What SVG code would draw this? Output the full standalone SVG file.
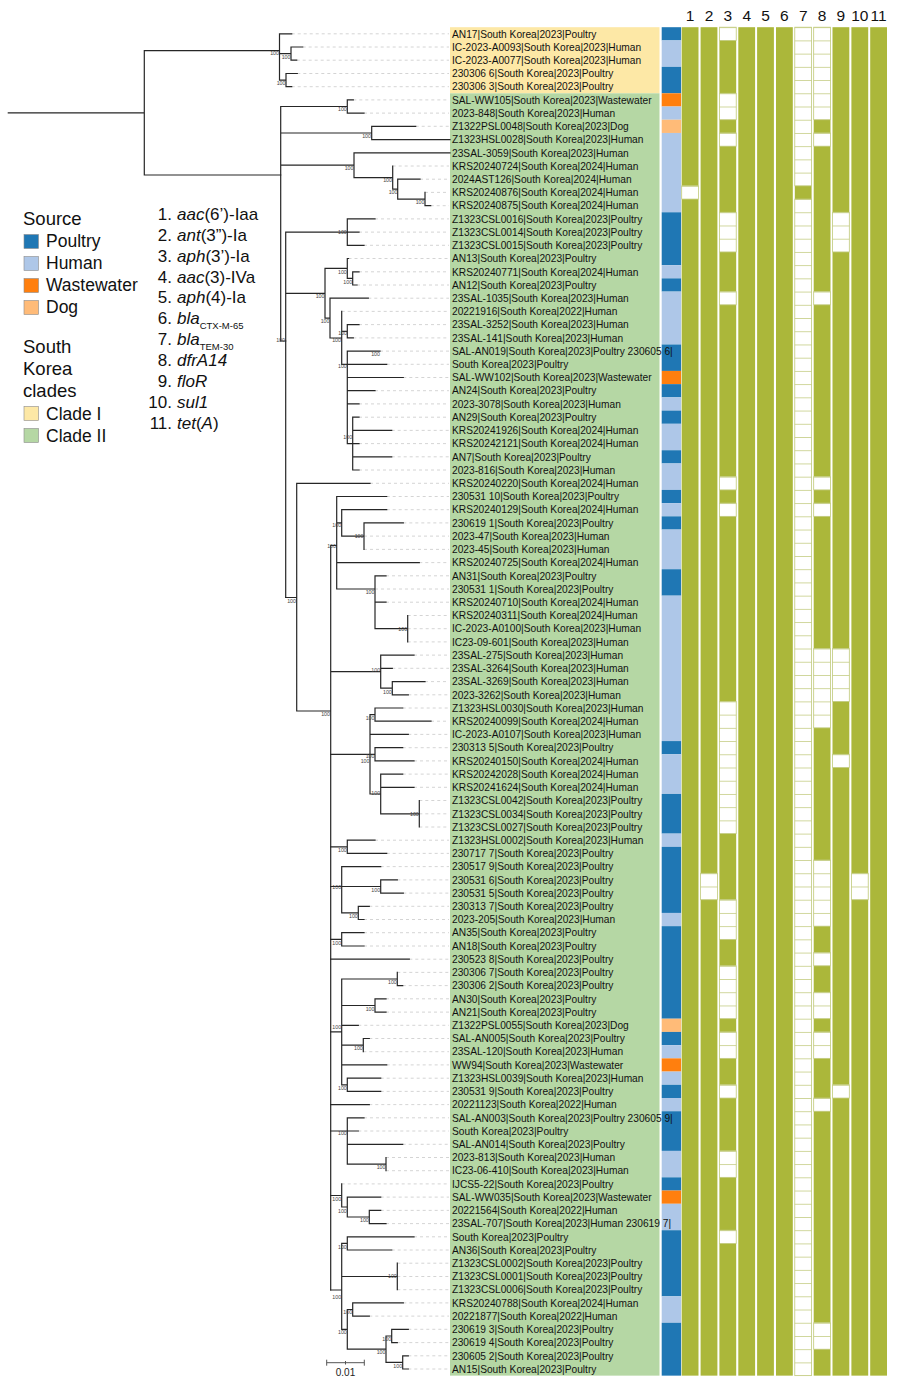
<svg xmlns="http://www.w3.org/2000/svg" width="900" height="1378" viewBox="0 0 900 1378">
<style>
.t{font-family:"Liberation Sans",Arial,sans-serif;font-size:10.2px;fill:#111}
.bs{font-family:"Liberation Sans",Arial,sans-serif;font-size:5.3px;fill:#444;text-anchor:end}
.br{fill:none;stroke:#262626;stroke-width:1.2;stroke-linecap:square}
.ld{fill:none;stroke:#c9c9c9;stroke-width:0.8;stroke-dasharray:3 3}
.g{fill:#abb73a}
.w{fill:url(#wc);stroke:#c5ce86;stroke-width:0.8}
.lg{font-family:"Liberation Sans",Arial,sans-serif;fill:#111}
.sw{stroke:#8a8a8a;stroke-width:0.6}
.P{fill:#1f77b4}.H{fill:#aec7e8}.W{fill:#ff7f0e}.D{fill:#ffbb78}
.hd{font-family:"Liberation Sans",Arial,sans-serif;font-size:15.5px;fill:#111;text-anchor:middle}
</style>
<defs>
<pattern id="wc" patternUnits="userSpaceOnUse" x="0" y="27.2" width="20" height="13.22">
<rect width="20" height="13.22" fill="#fff"/><rect width="20" height="0.8" fill="#c5ce86"/>
</pattern>
</defs>
<rect width="900" height="1378" fill="#fff"/>

<g id="legend-source">
<text class="lg" x="23" y="225" font-size="18.5">Source</text>
<rect class="P sw" x="24" y="234.5" width="14.5" height="14"/>
<text class="lg" x="46" y="247" font-size="17.5">Poultry</text>
<rect class="H sw" x="24" y="256.5" width="14.5" height="14"/>
<text class="lg" x="46" y="269" font-size="17.5">Human</text>
<rect class="W sw" x="24" y="278.5" width="14.5" height="14"/>
<text class="lg" x="46" y="291" font-size="17.5">Wastewater</text>
<rect class="D sw" x="24" y="300.5" width="14.5" height="14"/>
<text class="lg" x="46" y="313" font-size="17.5">Dog</text>
</g>
<g id="legend-clades">
<text class="lg" x="23" y="353" font-size="18.5">South</text>
<text class="lg" x="23" y="375" font-size="18.5">Korea</text>
<text class="lg" x="23" y="396.5" font-size="18.5">clades</text>
<rect class="sw" x="24" y="406.5" width="14.5" height="14" fill="#fde8a6"/>
<text class="lg" x="46" y="420" font-size="17.5">Clade I</text>
<rect class="sw" x="24" y="428.5" width="14.5" height="14" fill="#b5d7a4"/>
<text class="lg" x="46" y="442" font-size="17.5">Clade II</text>
</g>
<g id="legend-genes" class="lg" font-size="17">
<text x="172" y="220" text-anchor="end">1.</text><text x="177" y="220"><tspan font-style="italic">aac</tspan>(6’)-Iaa</text>
<text x="172" y="240.85" text-anchor="end">2.</text><text x="177" y="240.85"><tspan font-style="italic">ant</tspan>(3”)-Ia</text>
<text x="172" y="261.7" text-anchor="end">3.</text><text x="177" y="261.7"><tspan font-style="italic">aph</tspan>(3’)-Ia</text>
<text x="172" y="282.55" text-anchor="end">4.</text><text x="177" y="282.55"><tspan font-style="italic">aac</tspan>(3)-IVa</text>
<text x="172" y="303.4" text-anchor="end">5.</text><text x="177" y="303.4"><tspan font-style="italic">aph</tspan>(4)-Ia</text>
<text x="172" y="324.25" text-anchor="end">6.</text><text x="177" y="324.25"><tspan font-style="italic">bla</tspan><tspan font-size="9.5" dy="5">CTX-M-65</tspan></text>
<text x="172" y="345.1" text-anchor="end">7.</text><text x="177" y="345.1"><tspan font-style="italic">bla</tspan><tspan font-size="9.5" dy="5">TEM-30</tspan></text>
<text x="172" y="365.95" text-anchor="end">8.</text><text x="177" y="365.95" font-style="italic">dfrA14</text>
<text x="172" y="386.8" text-anchor="end">9.</text><text x="177" y="386.8" font-style="italic">floR</text>
<text x="172" y="407.65" text-anchor="end">10.</text><text x="177" y="407.65" font-style="italic">sul1</text>
<text x="172" y="428.5" text-anchor="end">11.</text><text x="177" y="428.5"><tspan font-style="italic">tet</tspan>(<tspan font-style="italic">A</tspan>)</text>
</g>

<g id="clade-bands">
<rect x="450" y="27.2" width="209.5" height="66.1" fill="#fde8a6"/>
<rect x="450" y="93.3" width="209.5" height="1282.34" fill="#b5d7a4"/>
</g>

<g id="leaders">
<path class="ld" d="M291.7,33.8H449M302.7,47H449M296.7,60.2H449M297.3,73.5H449M291.7,86.7H449M353.3,99.9H449M364,113.1H449M415.7,126.3H449M392.7,166H449M420,179.2H449M425,192.4H449M430.7,205.7H449M375,218.9H449M359,232.1H449M364,245.3H449M348.5,258.5H449M359,271.8H449M357,285H449M368.3,298.2H449M341.7,311.4H449M359,324.6H449M353.3,337.9H449M380,351.1H449M386.7,364.3H449M403.3,377.5H449M375,390.7H449M359,403.9H449M359,417.2H449M391.7,430.4H449M359,443.6H449M391.7,456.8H449M359,470H449M370,483.3H449M386.7,496.5H449M386.7,509.7H449M403.3,522.9H449M364,536.1H449M364,549.4H449M419.3,562.6H449M386,575.8H449M375,589H449M386,602.2H449M407.7,615.5H449M407.7,628.7H449M407.7,641.9H449M414,655.1H449M392.3,668.3H449M425,681.6H449M408.3,694.8H449M402.7,708H449M431,721.2H449M408.3,734.4H449M402.7,747.7H449M414,760.9H449M402.7,774.1H449M414,787.3H449M419.3,800.5H449M419.3,813.8H449M419.3,827H449M375,840.2H449M386.7,853.4H449M380.7,866.6H449M397.3,879.9H449M403.3,893.1H449M369.3,906.3H449M364,919.5H449M364,932.7H449M364,946H449M409.3,959.2H449M397.3,972.4H449M402.7,985.6H449M386,998.8H449M386,1012.1H449M358.3,1025.3H449M369.3,1038.5H449M363.3,1051.7H449M386.7,1064.9H449M380.7,1078.2H449M380.7,1091.4H449M369.3,1104.6H449M364,1117.8H449M358.3,1131H449M402.7,1144.3H449M386,1157.5H449M386,1170.7H449M341.7,1183.9H449M380.7,1197.1H449M380.7,1210.4H449M386,1223.6H449M414,1236.8H449M391.7,1250H449M397.3,1263.2H449M397.3,1276.5H449M397.3,1289.7H449M403.3,1302.9H449M369.3,1316.1H449M408.3,1329.3H449M397.3,1342.6H449M408.3,1355.8H449M408.3,1369H449"/>
</g>

<g id="connectors">
<path class="br" d="M8.3,112.9H144.3M144.3,50.7V175M144.3,50.7H279.5M144.3,175H280.7M279.5,33.8V80.1M279.5,33.8H291.7M279.5,53.6H291M291,47V60.2M291,47H302.7M291,60.2H296.7M279.5,80.1H286M286,73.5V86.7M286,73.5H297.3M286,86.7H291.7"/>
<path class="br" d="M280.7,106.5V341M280.7,106.5H347.3M347.3,99.9V113.1M347.3,99.9H353.3M347.3,113.1H364M280.7,133H371.7M371.7,126.3V139.6M371.7,126.3H415.7M371.7,139.6H450M280.7,165.2H354M354,152.8V177.6M354,152.8H450M354,177.6H392.7M392.7,166V189.1M392.7,189.1H397.7M397.7,179.2V199.1M397.7,179.2H420M397.7,199.1H425M425,192.4V205.7M425,205.7H430.7M280.7,341H285.7"/>
<path class="br" d="M285.7,232.1V597.5M285.7,232.1H347.3M347.3,218.9V245.3M347.3,218.9H375M347.3,232.1H359M347.3,245.3H364M285.7,293.3H325M325,268.3V318.1M325,268.3H347.3M347.3,258.5V278.4M347.3,258.5H348.5M347.3,278.4H352.7M352.7,271.8V285M352.7,271.8H359M352.7,285H357M325,318.1H330M330,298.2V338M330,298.2H368.3M330,338H341.7M341.7,311.4V364.3M341.7,331.3H347.3M347.3,324.6V337.9M347.3,324.6H359M347.3,337.9H353.3M341.7,364.3H347.3M347.3,351.1V443.6M347.3,351.1H380M347.3,364.3H386.7M347.3,377.5H403.3M347.3,390.7H375M347.3,403.9H359M347.3,443.6H352.7M352.7,417.2V470M352.7,417.2H359M352.7,430.4H391.7M352.7,443.6H359M352.7,456.8H391.7M352.7,470H359"/>
<path class="br" d="M285.7,597.5H296.7M296.7,483.3V711M296.7,483.3H370M296.7,711H330.7M330.7,545.5V1290M330.7,545.5H336.7M336.7,496.5V589M336.7,496.5H386.7M336.7,522.9H341.7M341.7,509.7V536.1M341.7,509.7H386.7M341.7,536.1H364M364,522.9V549.4M364,522.9H403.3M336.7,562.6H419.3M336.7,589H375M375,575.8V628.7M375,575.8H386M375,602.2H386M375,628.7H407.7M407.7,615.5V641.9M330.7,671.6H380.7M380.7,655.1V688.2M380.7,655.1H414M380.7,668.3H392.3M380.7,688.2H392.3M392.3,681.6V694.8M392.3,681.6H425M392.3,694.8H408.3"/>
<path class="br" d="M330.7,754.3H375M370,714.6V794M370,714.6H375M375,708V721.2M375,708H402.7M375,721.2H431M370,734.4H408.3M375,747.7V760.9M375,747.7H402.7M375,760.9H414M370,794H380.7M380.7,774.1V813.8M380.7,774.1H402.7M380.7,787.3H414M380.7,813.8H419.3M419.3,800.5V827M330.7,846.8H347.3M347.3,840.2V853.4M347.3,840.2H375M347.3,853.4H386.7M330.7,886.5H380.7M341.7,866.6V912.9M341.7,866.6H380.7M380.7,879.9V893.1M380.7,879.9H397.3M380.7,893.1H403.3M341.7,912.9H358.3M358.3,906.3V919.5M358.3,906.3H369.3M358.3,919.5H364M330.7,939.4H341.7M341.7,932.7V946M341.7,932.7H364M341.7,946H364M330.7,959.2H409.3"/>
<path class="br" d="M330.7,1031.9H341.7M341.7,979V1084.8M341.7,979H397.3M397.3,972.4V985.6M397.3,985.6H402.7M341.7,1005.5H375M375,998.8V1012.1M375,998.8H386M375,1012.1H386M341.7,1025.3H358.3M341.7,1045.1H363.3M363.3,1038.5V1051.7M363.3,1038.5H369.3M341.7,1064.9H386.7M341.7,1084.8H347.3M347.3,1078.2V1091.4M347.3,1078.2H380.7M347.3,1091.4H380.7M330.7,1104.6H369.3M330.7,1131H358.3M347.3,1117.8V1164.1M347.3,1117.8H364M347.3,1144.3H402.7M347.3,1164.1H386M386,1157.5V1170.7M330.7,1195.5H341.7M341.7,1183.9V1207M341.7,1207H347.3M347.3,1197.1V1217M347.3,1197.1H380.7M347.3,1217H369.3M369.3,1210.4V1223.6M369.3,1210.4H380.7M369.3,1223.6H386M330.7,1290H341.7M341.7,1243.4V1329.4M341.7,1243.4H347.3M347.3,1236.8V1250M347.3,1236.8H414M347.3,1250H391.7M341.7,1276.5H397.3M397.3,1263.2V1289.7M341.7,1329.4H347.3M347.3,1309.5V1349.2M347.3,1309.5H352.7M352.7,1302.9V1316.1M352.7,1302.9H403.3M352.7,1316.1H369.3M347.3,1349.2H386M386,1336V1362.4M386,1336H391.7M391.7,1329.3V1342.6M391.7,1329.3H408.3M391.7,1342.6H397.3M386,1362.4H402.7M402.7,1355.8V1369M402.7,1355.8H408.3M402.7,1369H408.3"/>
</g>

<g id="bootstrap">
<text class="bs" x="279" y="55.3">100</text><text class="bs" x="290.5" y="58.7">100</text><text class="bs" x="285.5" y="84.7">100</text>
<text class="bs" x="346.8" y="111.3">100</text><text class="bs" x="371" y="138">100</text><text class="bs" x="353.5" y="170.3">100</text>
<text class="bs" x="392" y="182">100</text><text class="bs" x="397.5" y="194.3">100</text><text class="bs" x="424.5" y="203.7">100</text>
<text class="bs" x="346.8" y="234">100</text><text class="bs" x="324.5" y="298">100</text><text class="bs" x="346.8" y="273.7">100</text>
<text class="bs" x="352.2" y="283.7">100</text><text class="bs" x="329.5" y="323">100</text><text class="bs" x="341" y="342">100</text>
<text class="bs" x="347" y="335.3">100</text><text class="bs" x="285" y="342">100</text><text class="bs" x="380" y="356">100</text>
<text class="bs" x="346.8" y="368">100</text><text class="bs" x="352.2" y="438.7">100</text><text class="bs" x="296" y="602.7">100</text>
<text class="bs" x="336" y="547.7">100</text><text class="bs" x="341.2" y="527">100</text><text class="bs" x="363.5" y="538">100</text>
<text class="bs" x="374.5" y="593.7">100</text><text class="bs" x="407.2" y="631">100</text><text class="bs" x="380.2" y="671.7">100</text>
<text class="bs" x="391.8" y="693.7">100</text><text class="bs" x="330" y="716.3">100</text><text class="bs" x="374.5" y="719.7">100</text>
<text class="bs" x="369.5" y="763">100</text><text class="bs" x="374.5" y="757.5">100</text><text class="bs" x="380.2" y="795">100</text>
<text class="bs" x="418.8" y="815.7">100</text><text class="bs" x="346.8" y="852">100</text><text class="bs" x="341.2" y="888.7">100</text>
<text class="bs" x="380.2" y="892">100</text><text class="bs" x="357.8" y="918">100</text><text class="bs" x="341.2" y="944.7">100</text>
<text class="bs" x="341.2" y="1029">100</text><text class="bs" x="396.8" y="984">100</text><text class="bs" x="374.5" y="1011">100</text>
<text class="bs" x="362.8" y="1050">100</text><text class="bs" x="346.8" y="1090">100</text><text class="bs" x="346.8" y="1135">100</text>
<text class="bs" x="385.5" y="1169">100</text><text class="bs" x="341.2" y="1201">100</text><text class="bs" x="346.8" y="1212.7">100</text>
<text class="bs" x="368.8" y="1222.3">100</text><text class="bs" x="341.2" y="1299.3">100</text><text class="bs" x="346.8" y="1248.7">100</text>
<text class="bs" x="396.8" y="1278">100</text><text class="bs" x="346.8" y="1334.3">100</text><text class="bs" x="352.2" y="1314.3">100</text>
<text class="bs" x="385.5" y="1354.3">100</text><text class="bs" x="391.2" y="1341">100</text><text class="bs" x="402.2" y="1367.7">100</text>
</g>

<g id="scale-bar">
<path d="M326.7,1362.7H364.3M326.7,1359.7V1365.7M364.3,1359.7V1365.7M345.5,1361V1364.5" fill="none" stroke="#555" stroke-width="1"/>
<text x="345.5" y="1375.5" text-anchor="middle" font-family="Liberation Sans,Arial,sans-serif" font-size="10" fill="#222">0.01</text>
</g>

<g id="source-column">
<rect class="P" x="661.7" y="27.2" width="19.4" height="13.22"/>
<rect class="H" x="661.7" y="40.42" width="19.4" height="26.44"/>
<rect class="P" x="661.7" y="66.86" width="19.4" height="26.44"/>
<rect class="W" x="661.7" y="93.3" width="19.4" height="13.22"/>
<rect class="H" x="661.7" y="106.52" width="19.4" height="13.22"/>
<rect class="D" x="661.7" y="119.74" width="19.4" height="13.22"/>
<rect class="H" x="661.7" y="132.96" width="19.4" height="79.32"/>
<rect class="P" x="661.7" y="212.28" width="19.4" height="52.88"/>
<rect class="H" x="661.7" y="265.16" width="19.4" height="13.22"/>
<rect class="P" x="661.7" y="278.38" width="19.4" height="13.22"/>
<rect class="H" x="661.7" y="291.6" width="19.4" height="52.88"/>
<rect class="P" x="661.7" y="344.48" width="19.4" height="26.44"/>
<rect class="W" x="661.7" y="370.92" width="19.4" height="13.22"/>
<rect class="P" x="661.7" y="384.14" width="19.4" height="13.22"/>
<rect class="H" x="661.7" y="397.36" width="19.4" height="13.22"/>
<rect class="P" x="661.7" y="410.58" width="19.4" height="13.22"/>
<rect class="H" x="661.7" y="423.8" width="19.4" height="26.44"/>
<rect class="P" x="661.7" y="450.24" width="19.4" height="13.22"/>
<rect class="H" x="661.7" y="463.46" width="19.4" height="26.44"/>
<rect class="P" x="661.7" y="489.9" width="19.4" height="13.22"/>
<rect class="H" x="661.7" y="503.12" width="19.4" height="13.22"/>
<rect class="P" x="661.7" y="516.34" width="19.4" height="13.22"/>
<rect class="H" x="661.7" y="529.56" width="19.4" height="39.66"/>
<rect class="P" x="661.7" y="569.22" width="19.4" height="26.44"/>
<rect class="H" x="661.7" y="595.66" width="19.4" height="145.42"/>
<rect class="P" x="661.7" y="741.08" width="19.4" height="13.22"/>
<rect class="H" x="661.7" y="754.3" width="19.4" height="39.66"/>
<rect class="P" x="661.7" y="793.96" width="19.4" height="39.66"/>
<rect class="H" x="661.7" y="833.62" width="19.4" height="13.22"/>
<rect class="P" x="661.7" y="846.84" width="19.4" height="66.1"/>
<rect class="H" x="661.7" y="912.94" width="19.4" height="13.22"/>
<rect class="P" x="661.7" y="926.16" width="19.4" height="92.54"/>
<rect class="D" x="661.7" y="1018.7" width="19.4" height="13.22"/>
<rect class="P" x="661.7" y="1031.92" width="19.4" height="13.22"/>
<rect class="H" x="661.7" y="1045.14" width="19.4" height="13.22"/>
<rect class="W" x="661.7" y="1058.36" width="19.4" height="13.22"/>
<rect class="H" x="661.7" y="1071.58" width="19.4" height="13.22"/>
<rect class="P" x="661.7" y="1084.8" width="19.4" height="13.22"/>
<rect class="H" x="661.7" y="1098.02" width="19.4" height="13.22"/>
<rect class="P" x="661.7" y="1111.24" width="19.4" height="39.66"/>
<rect class="H" x="661.7" y="1150.9" width="19.4" height="26.44"/>
<rect class="P" x="661.7" y="1177.34" width="19.4" height="13.22"/>
<rect class="W" x="661.7" y="1190.56" width="19.4" height="13.22"/>
<rect class="H" x="661.7" y="1203.78" width="19.4" height="26.44"/>
<rect class="P" x="661.7" y="1230.22" width="19.4" height="66.1"/>
<rect class="H" x="661.7" y="1296.32" width="19.4" height="26.44"/>
<rect class="P" x="661.7" y="1322.76" width="19.4" height="52.88"/>
</g>

<g id="heatmap">
<text class="hd" x="690.1" y="21">1</text><text class="hd" x="709" y="21">2</text><text class="hd" x="727.8" y="21">3</text><text class="hd" x="746.7" y="21">4</text><text class="hd" x="765.5" y="21">5</text><text class="hd" x="784.4" y="21">6</text><text class="hd" x="803.2" y="21">7</text><text class="hd" x="822.1" y="21">8</text><text class="hd" x="840.9" y="21">9</text><text class="hd" x="859.8" y="21">10</text><text class="hd" x="878.6" y="21">11</text>
<rect class="g" x="681.7" y="27.2" width="16.8" height="1348.44"/>
<rect class="g" x="700.6" y="27.2" width="16.8" height="1348.44"/>
<rect class="g" x="719.4" y="27.2" width="16.8" height="1348.44"/>
<rect class="g" x="738.3" y="27.2" width="16.8" height="1348.44"/>
<rect class="g" x="757.1" y="27.2" width="16.8" height="1348.44"/>
<rect class="g" x="776" y="27.2" width="16.8" height="1348.44"/>
<rect class="g" x="794.8" y="27.2" width="16.8" height="1348.44"/>
<rect class="g" x="813.7" y="27.2" width="16.8" height="1348.44"/>
<rect class="g" x="832.5" y="27.2" width="16.8" height="1348.44"/>
<rect class="g" x="851.4" y="27.2" width="16.8" height="1348.44"/>
<rect class="g" x="870.2" y="27.2" width="16.8" height="1348.44"/>
<rect class="w" x="681.7" y="185.84" width="16.8" height="13.22"/>
<rect class="w" x="700.6" y="873.28" width="16.8" height="26.44"/>
<rect class="w" x="719.4" y="27.2" width="16.8" height="13.22"/>
<rect class="w" x="719.4" y="93.3" width="16.8" height="26.44"/>
<rect class="w" x="719.4" y="132.96" width="16.8" height="13.22"/>
<rect class="w" x="719.4" y="212.28" width="16.8" height="39.66"/>
<rect class="w" x="719.4" y="291.6" width="16.8" height="13.22"/>
<rect class="w" x="719.4" y="476.68" width="16.8" height="13.22"/>
<rect class="w" x="719.4" y="503.12" width="16.8" height="13.22"/>
<rect class="w" x="719.4" y="701.42" width="16.8" height="132.2"/>
<rect class="w" x="719.4" y="899.72" width="16.8" height="39.66"/>
<rect class="w" x="719.4" y="965.82" width="16.8" height="52.88"/>
<rect class="w" x="719.4" y="1031.92" width="16.8" height="26.44"/>
<rect class="w" x="719.4" y="1084.8" width="16.8" height="13.22"/>
<rect class="w" x="719.4" y="1150.9" width="16.8" height="26.44"/>
<rect class="w" x="719.4" y="1230.22" width="16.8" height="13.22"/>
<rect class="w" x="794.8" y="27.2" width="16.8" height="158.64"/>
<rect class="w" x="794.8" y="199.06" width="16.8" height="1176.58"/>
<rect class="w" x="813.7" y="27.2" width="16.8" height="92.54"/>
<rect class="w" x="813.7" y="132.96" width="16.8" height="13.22"/>
<rect class="w" x="813.7" y="291.6" width="16.8" height="13.22"/>
<rect class="w" x="813.7" y="476.68" width="16.8" height="13.22"/>
<rect class="w" x="813.7" y="503.12" width="16.8" height="13.22"/>
<rect class="w" x="813.7" y="648.54" width="16.8" height="79.32"/>
<rect class="w" x="813.7" y="860.06" width="16.8" height="66.1"/>
<rect class="w" x="813.7" y="952.6" width="16.8" height="13.22"/>
<rect class="w" x="813.7" y="992.26" width="16.8" height="26.44"/>
<rect class="w" x="813.7" y="1031.92" width="16.8" height="26.44"/>
<rect class="w" x="813.7" y="1098.02" width="16.8" height="13.22"/>
<rect class="w" x="813.7" y="1322.76" width="16.8" height="26.44"/>
<rect class="w" x="832.5" y="212.28" width="16.8" height="39.66"/>
<rect class="w" x="832.5" y="648.54" width="16.8" height="52.88"/>
<rect class="w" x="832.5" y="754.3" width="16.8" height="13.22"/>
<rect class="w" x="832.5" y="1084.8" width="16.8" height="13.22"/>
<rect class="w" x="851.4" y="873.28" width="16.8" height="26.44"/>
</g>

<g id="tip-labels" class="t">
<text x="452" y="37.5">AN17|South Korea|2023|Poultry</text>
<text x="452" y="50.7">IC-2023-A0093|South Korea|2023|Human</text>
<text x="452" y="63.9">IC-2023-A0077|South Korea|2023|Human</text>
<text x="452" y="77.2">230306 6|South Korea|2023|Poultry</text>
<text x="452" y="90.4">230306 3|South Korea|2023|Poultry</text>
<text x="452" y="103.6">SAL-WW105|South Korea|2023|Wastewater</text>
<text x="452" y="116.8">2023-848|South Korea|2023|Human</text>
<text x="452" y="130">Z1322PSL0048|South Korea|2023|Dog</text>
<text x="452" y="143.3">Z1323HSL0028|South Korea|2023|Human</text>
<text x="452" y="156.5">23SAL-3059|South Korea|2023|Human</text>
<text x="452" y="169.7">KRS20240724|South Korea|2024|Human</text>
<text x="452" y="182.9">2024AST126|South Korea|2024|Human</text>
<text x="452" y="196.1">KRS20240876|South Korea|2024|Human</text>
<text x="452" y="209.4">KRS20240875|South Korea|2024|Human</text>
<text x="452" y="222.6">Z1323CSL0016|South Korea|2023|Poultry</text>
<text x="452" y="235.8">Z1323CSL0014|South Korea|2023|Poultry</text>
<text x="452" y="249">Z1323CSL0015|South Korea|2023|Poultry</text>
<text x="452" y="262.2">AN13|South Korea|2023|Poultry</text>
<text x="452" y="275.5">KRS20240771|South Korea|2024|Human</text>
<text x="452" y="288.7">AN12|South Korea|2023|Poultry</text>
<text x="452" y="301.9">23SAL-1035|South Korea|2023|Human</text>
<text x="452" y="315.1">20221916|South Korea|2022|Human</text>
<text x="452" y="328.3">23SAL-3252|South Korea|2023|Human</text>
<text x="452" y="341.6">23SAL-141|South Korea|2023|Human</text>
<text x="452" y="354.8">SAL-AN019|South Korea|2023|Poultry 230605 6|</text>
<text x="452" y="368">South Korea|2023|Poultry</text>
<text x="452" y="381.2">SAL-WW102|South Korea|2023|Wastewater</text>
<text x="452" y="394.4">AN24|South Korea|2023|Poultry</text>
<text x="452" y="407.6">2023-3078|South Korea|2023|Human</text>
<text x="452" y="420.9">AN29|South Korea|2023|Poultry</text>
<text x="452" y="434.1">KRS20241926|South Korea|2024|Human</text>
<text x="452" y="447.3">KRS20242121|South Korea|2024|Human</text>
<text x="452" y="460.5">AN7|South Korea|2023|Poultry</text>
<text x="452" y="473.7">2023-816|South Korea|2023|Human</text>
<text x="452" y="487">KRS20240220|South Korea|2024|Human</text>
<text x="452" y="500.2">230531 10|South Korea|2023|Poultry</text>
<text x="452" y="513.4">KRS20240129|South Korea|2024|Human</text>
<text x="452" y="526.6">230619 1|South Korea|2023|Poultry</text>
<text x="452" y="539.8">2023-47|South Korea|2023|Human</text>
<text x="452" y="553.1">2023-45|South Korea|2023|Human</text>
<text x="452" y="566.3">KRS20240725|South Korea|2024|Human</text>
<text x="452" y="579.5">AN31|South Korea|2023|Poultry</text>
<text x="452" y="592.7">230531 1|South Korea|2023|Poultry</text>
<text x="452" y="605.9">KRS20240710|South Korea|2024|Human</text>
<text x="452" y="619.2">KRS20240311|South Korea|2024|Human</text>
<text x="452" y="632.4">IC-2023-A0100|South Korea|2023|Human</text>
<text x="452" y="645.6">IC23-09-601|South Korea|2023|Human</text>
<text x="452" y="658.8">23SAL-275|South Korea|2023|Human</text>
<text x="452" y="672">23SAL-3264|South Korea|2023|Human</text>
<text x="452" y="685.3">23SAL-3269|South Korea|2023|Human</text>
<text x="452" y="698.5">2023-3262|South Korea|2023|Human</text>
<text x="452" y="711.7">Z1323HSL0030|South Korea|2023|Human</text>
<text x="452" y="724.9">KRS20240099|South Korea|2024|Human</text>
<text x="452" y="738.1">IC-2023-A0107|South Korea|2023|Human</text>
<text x="452" y="751.4">230313 5|South Korea|2023|Poultry</text>
<text x="452" y="764.6">KRS20240150|South Korea|2024|Human</text>
<text x="452" y="777.8">KRS20242028|South Korea|2024|Human</text>
<text x="452" y="791">KRS20241624|South Korea|2024|Human</text>
<text x="452" y="804.2">Z1323CSL0042|South Korea|2023|Poultry</text>
<text x="452" y="817.5">Z1323CSL0034|South Korea|2023|Poultry</text>
<text x="452" y="830.7">Z1323CSL0027|South Korea|2023|Poultry</text>
<text x="452" y="843.9">Z1323HSL0002|South Korea|2023|Human</text>
<text x="452" y="857.1">230717 7|South Korea|2023|Poultry</text>
<text x="452" y="870.3">230517 9|South Korea|2023|Poultry</text>
<text x="452" y="883.6">230531 6|South Korea|2023|Poultry</text>
<text x="452" y="896.8">230531 5|South Korea|2023|Poultry</text>
<text x="452" y="910">230313 7|South Korea|2023|Poultry</text>
<text x="452" y="923.2">2023-205|South Korea|2023|Human</text>
<text x="452" y="936.4">AN35|South Korea|2023|Poultry</text>
<text x="452" y="949.7">AN18|South Korea|2023|Poultry</text>
<text x="452" y="962.9">230523 8|South Korea|2023|Poultry</text>
<text x="452" y="976.1">230306 7|South Korea|2023|Poultry</text>
<text x="452" y="989.3">230306 2|South Korea|2023|Poultry</text>
<text x="452" y="1002.5">AN30|South Korea|2023|Poultry</text>
<text x="452" y="1015.8">AN21|South Korea|2023|Poultry</text>
<text x="452" y="1029">Z1322PSL0055|South Korea|2023|Dog</text>
<text x="452" y="1042.2">SAL-AN005|South Korea|2023|Poultry</text>
<text x="452" y="1055.4">23SAL-120|South Korea|2023|Human</text>
<text x="452" y="1068.6">WW94|South Korea|2023|Wastewater</text>
<text x="452" y="1081.9">Z1323HSL0039|South Korea|2023|Human</text>
<text x="452" y="1095.1">230531 9|South Korea|2023|Poultry</text>
<text x="452" y="1108.3">20221123|South Korea|2022|Human</text>
<text x="452" y="1121.5">SAL-AN003|South Korea|2023|Poultry 230605 9|</text>
<text x="452" y="1134.7">South Korea|2023|Poultry</text>
<text x="452" y="1148">SAL-AN014|South Korea|2023|Poultry</text>
<text x="452" y="1161.2">2023-813|South Korea|2023|Human</text>
<text x="452" y="1174.4">IC23-06-410|South Korea|2023|Human</text>
<text x="452" y="1187.6">IJCS5-22|South Korea|2023|Poultry</text>
<text x="452" y="1200.8">SAL-WW035|South Korea|2023|Wastewater</text>
<text x="452" y="1214.1">20221564|South Korea|2022|Human</text>
<text x="452" y="1227.3">23SAL-707|South Korea|2023|Human 230619 7|</text>
<text x="452" y="1240.5">South Korea|2023|Poultry</text>
<text x="452" y="1253.7">AN36|South Korea|2023|Poultry</text>
<text x="452" y="1266.9">Z1323CSL0002|South Korea|2023|Poultry</text>
<text x="452" y="1280.2">Z1323CSL0001|South Korea|2023|Poultry</text>
<text x="452" y="1293.4">Z1323CSL0006|South Korea|2023|Poultry</text>
<text x="452" y="1306.6">KRS20240788|South Korea|2024|Human</text>
<text x="452" y="1319.8">20221877|South Korea|2022|Human</text>
<text x="452" y="1333">230619 3|South Korea|2023|Poultry</text>
<text x="452" y="1346.3">230619 4|South Korea|2023|Poultry</text>
<text x="452" y="1359.5">230605 2|South Korea|2023|Poultry</text>
<text x="452" y="1372.7">AN15|South Korea|2023|Poultry</text>
</g>
</svg>
